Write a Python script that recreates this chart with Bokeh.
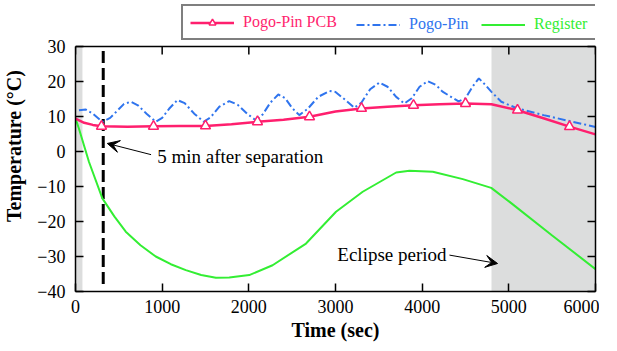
from bokeh.plotting import figure
from bokeh.models import (Range1d, LinearAxis, Legend, LegendItem, Label, Arrow,
                          VeeHead, BoxAnnotation, FixedTicker, CustomJSTickFormatter)
from bokeh.embed import file_html
from bokeh.resources import INLINE

# ---------------- data ----------------
x_ticks = [0, 1000, 2000, 3000, 4000, 5000, 6000]
y_ticks = [-40, -30, -20, -10, 0, 10, 20, 30]

reg_time = [0, 40, 156, 310, 450, 580, 750, 926, 1100, 1273, 1450, 1620, 1774, 2005,
            2274, 2660, 3006, 3314, 3700, 3853, 4123, 4469, 4797, 5009, 5500, 6000]
reg_temp = [9.5, 6.5, -3.0, -13.4, -18.6, -22.9, -26.8, -30.0, -32.2, -33.9, -35.3, -36.1,
            -36.0, -35.3, -32.5, -26.3, -17.2, -11.5, -6.0, -5.5, -5.8, -7.9, -10.4, -14.4,
            -24.0, -33.6]

pcb_time = [0, 100, 200, 300, 600, 900, 1200, 1500, 1800, 2100, 2400, 2700, 3000, 3300,
            3600, 3900, 4200, 4500, 4800, 5100, 5400, 5700, 6000]
pcb_temp = [9.4, 8.2, 7.6, 7.2, 7.1, 7.2, 7.3, 7.3, 7.8, 8.5, 9.1, 9.9, 11.4, 12.3,
            12.8, 13.2, 13.5, 13.7, 13.5, 11.8, 9.5, 7.1, 4.9]
marker_time = [300, 900, 1500, 2100, 2700, 3300, 3900, 4500, 5100, 5700]

pin_time = [40, 120, 200, 310, 400, 480, 560, 638, 720, 820, 927, 1000, 1080, 1176, 1260,
            1370, 1480, 1560, 1660, 1773, 1870, 1980, 2082, 2160, 2250, 2340, 2420, 2500,
            2582, 2680, 2800, 2930, 3000, 3110, 3218, 3300, 3400, 3507, 3600, 3700, 3795,
            3880, 3970, 4065, 4160, 4235, 4420, 4500, 4580, 4654, 4730, 4797, 4913, 5100,
            5400, 5700, 6000]
pin_temp = [11.8, 12.0, 10.8, 8.5, 9.6, 11.6, 13.6, 14.2, 13.2, 10.8, 8.5, 9.6, 12.2, 14.7,
            13.8, 10.8, 8.5, 9.8, 12.8, 14.4, 13.4, 10.8, 8.9, 10.6, 14.0, 16.3, 15.2, 12.4,
            10.4, 12.2, 15.6, 17.3, 17.0, 14.8, 12.5, 14.0, 17.8, 19.7, 18.5, 15.6, 13.7,
            15.2, 18.5, 20.1, 19.0, 17.1, 14.3, 15.2, 18.5, 20.9, 19.0, 17.1, 14.2, 12.3,
            10.4, 8.7, 7.0]

shade_periods = [(0, 80), (4800, 6000)]
separation_time = 320
separation_span = [28.7, -38.4]

series_names = ["Pogo-Pin PCB", "Pogo-Pin", "Register"]
annot_sep = "5 min after separation"
annot_ecl = "Eclipse period"
x_label = "Time (sec)"
y_label = "Temperature (°C)"

# ---------------- styles / geometry ----------------
PINK = "#ff1f6e"
BLUE = "#2f74ee"
GREEN = "#33ee33"
SERIF = "Liberation Serif"
BLUE_DASH = "8 3 2 3"
PX_PER_DEG = 3.5           # vertical scale of the plot area
HEADROOM_PX = 46           # space above the plotted box that holds the legend
TICK_PX = 8

x0, x1 = x_ticks[0], x_ticks[-1]
y0, y1 = y_ticks[0], y_ticks[-1]
frame_h = round((y1 - y0) * PX_PER_DEG) + HEADROOM_PX

p = figure(frame_width=520, frame_height=frame_h, output_backend="svg",
           toolbar_location=None,
           x_range=Range1d(x0, x1), y_range=Range1d(y0, y1 + HEADROOM_PX / PX_PER_DEG),
           min_border_left=70, min_border_right=4, min_border_top=0,
           min_border_bottom=50)
p.grid.visible = False
p.outline_line_color = None
p.background_fill_color = "white"

for a, b in shade_periods:
    p.add_layout(BoxAnnotation(left=a, right=b, top=y1, bottom=y0, fill_color="#dcdddd",
                               fill_alpha=1.0, line_alpha=0, level="underlay"))

# top edge of the plotted box with inward ticks
p.line([x0, x1], [y1, y1], line_color="black", line_width=1.5)
p.segment(x0=x_ticks, y0=[y1] * len(x_ticks), x1=x_ticks,
          y1=[y1 - TICK_PX / PX_PER_DEG] * len(x_ticks), line_color="black", line_width=1.5)

p.line([separation_time, separation_time], separation_span, line_color="black",
       line_width=3, line_dash="12 5")

reg_r = p.line(reg_time, reg_temp, line_color=GREEN, line_width=2)
pin_r = p.line(pin_time, pin_temp, line_color=BLUE, line_width=2, line_dash=BLUE_DASH)
pcb_r = p.line(pcb_time, pcb_temp, line_color=PINK, line_width=2.5)
lookup = dict(zip(pcb_time, pcb_temp))
pcb_m = p.scatter(marker_time, [lookup[t] for t in marker_time], marker="triangle", size=10,
                  fill_color="white", line_color=PINK, line_width=1.5)

for ax in (p.xaxis[0], p.yaxis[0]):
    ax.major_tick_in = TICK_PX
    ax.major_tick_out = 0
    ax.minor_tick_in = 0
    ax.minor_tick_out = 0
    ax.axis_line_width = 1.5
    ax.major_tick_line_width = 1.5
    ax.major_label_text_font = SERIF
    ax.major_label_text_font_size = "18px"
    ax.major_label_text_color = "black"
    ax.axis_label_text_font = SERIF
    ax.axis_label_text_font_style = "bold"
    ax.axis_label_text_font_size = "20px"
    ax.axis_label_text_color = "black"
p.xaxis.ticker = FixedTicker(ticks=x_ticks)
p.yaxis.ticker = FixedTicker(ticks=y_ticks)
p.yaxis.bounds = (y0, y1)
p.xaxis.axis_label = x_label
p.yaxis.axis_label = y_label
p.xaxis.major_label_standoff = 8
p.xaxis.axis_label_standoff = 3
p.yaxis.major_label_standoff = 10
p.yaxis.axis_label_standoff = 9

blank = CustomJSTickFormatter(code="return ''")
rax = LinearAxis(ticker=FixedTicker(ticks=y_ticks), formatter=blank, bounds=(y0, y1),
                 major_tick_in=TICK_PX, major_tick_out=0, minor_tick_in=0, minor_tick_out=0,
                 major_label_standoff=0, axis_line_width=1.5, major_tick_line_width=1.5)
p.add_layout(rax, "right")

p.add_layout(Label(x=942, y=-1.5, text=annot_sep, text_font=SERIF, text_font_size="19px",
                   text_baseline="middle", text_color="black"))
p.add_layout(Arrow(end=VeeHead(size=12, fill_color="black", line_color="black"),
                   x_start=872, y_start=-0.9, x_end=367, y_end=2.3, line_width=1,
                   line_color="black"))
p.add_layout(Label(x=3021, y=-29.3, text=annot_ecl, text_font=SERIF, text_font_size="19px",
                   text_baseline="middle", text_color="black"))
p.add_layout(Arrow(end=VeeHead(size=12, fill_color="black", line_color="black"),
                   x_start=4315, y_start=-29.6, x_end=4870, y_end=-32.0, line_width=1,
                   line_color="black"))

# ---------------- legend (in the headroom above the box) ----------------
box_leg = Legend(items=[LegendItem(label=series_names[0], renderers=[pcb_r, pcb_m])],
                 location=(106, 251), orientation="horizontal",
                 border_line_color="black", border_line_width=2,
                 background_fill_color="white", background_fill_alpha=1,
                 padding=7, margin=0, spacing=0, glyph_width=44, glyph_height=17,
                 label_height=17, label_width=348, label_standoff=9,
                 label_text_font=SERIF, label_text_font_size="16px",
                 label_text_color=PINK)
p.add_layout(box_leg)
for name, r, col, vx in ((series_names[1], pin_r, BLUE, 281),
                         (series_names[2], reg_r, GREEN, 406)):
    lg = Legend(items=[LegendItem(label=name, renderers=[r])], location=(vx, 258),
                orientation="horizontal", border_line_alpha=0, background_fill_alpha=0,
                padding=0, margin=0, spacing=0, glyph_width=44, glyph_height=17,
                label_height=17, label_standoff=9, label_text_font=SERIF,
                label_text_font_size="16px", label_text_color=col)
    p.add_layout(lg)

open("out.html", "w").write(file_html(p, INLINE))
